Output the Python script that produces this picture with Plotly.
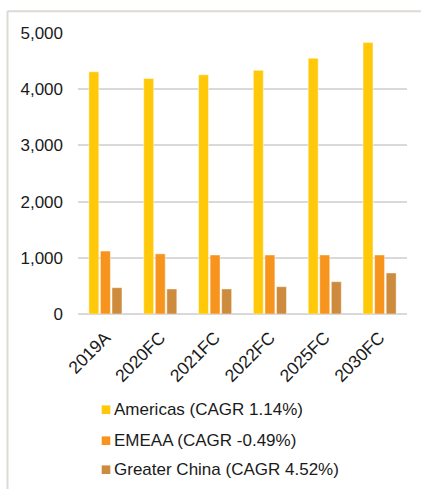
import plotly.graph_objects as go

# Revenue by region, actual and forecast years
years = ["2019A", "2020FC", "2021FC", "2022FC", "2025FC", "2030FC"]
americas = [4310, 4190, 4255, 4335, 4550, 4830]
emeaa = [1120, 1070, 1050, 1050, 1050, 1050]
greater_china = [468, 445, 445, 486, 575, 730]

series_names = [
    "Americas (CAGR 1.14%)",
    "EMEAA (CAGR -0.49%)",
    "Greater China (CAGR 4.52%)",
]
series_colors = ["#FFC90A", "#F7941D", "#CD8B3E"]
y_ticks = [0, 1000, 2000, 3000, 4000, 5000]

FONT = "Liberation Sans, Arial, sans-serif"
TEXT = "#1a1a1a"

fig = go.Figure()
for name, vals, col in zip(series_names, [americas, emeaa, greater_china], series_colors):
    fig.add_trace(go.Bar(
        x=years, y=vals, name=name, showlegend=False,
        marker=dict(color=col, line=dict(color="rgba(255,255,255,0.55)", width=0.8)),
    ))

fig.update_layout(
    width=421, height=489,
    margin=dict(l=78, r=14, t=33, b=175),
    paper_bgcolor="white", plot_bgcolor="white",
    barmode="group", bargap=0.367, bargroupgap=0.14,
    font=dict(family=FONT, size=17, color=TEXT),
    xaxis=dict(
        tickangle=-45, showgrid=False, showline=False, ticks="",
        automargin=False, ticklabelstandoff=9,
        tickfont=dict(size=17.5, family=FONT, color=TEXT),
    ),
    yaxis=dict(
        range=[0, 5000], tickvals=y_ticks, tickformat=",d",
        showgrid=True, gridcolor="#D9D9D9", gridwidth=2,
        zeroline=True, zerolinecolor="#D9D9D9", zerolinewidth=2,
        showline=False, ticks="", ticklabelstandoff=14, automargin=False,
        tickfont=dict(size=17, family=FONT, color=TEXT),
    ),
    showlegend=False,
)

# Legend: colour swatch plus label, one row per series, below the axis
px_left, px_width = 78.0, 329.0
px_bottom, px_height = 314.3, 281.0


def xp(px):
    return (px - px_left) / px_width


def yp(py):
    return (px_bottom - py) / px_height


legend_rows = [410, 441, 470]
for name, col, row in zip(series_names, series_colors, legend_rows):
    fig.add_shape(type="rect", xref="paper", yref="paper",
                  x0=xp(101.7), x1=xp(110.3), y0=yp(row + 4.3), y1=yp(row - 4.3),
                  fillcolor=col, line=dict(width=0))
    fig.add_annotation(xref="paper", yref="paper", x=xp(112), y=yp(row),
                       xanchor="left", yanchor="middle", showarrow=False,
                       text=name, font=dict(size=17, family=FONT, color=TEXT))

# Light frame around the chart area (top and left edges)
fig.add_shape(type="line", xref="paper", yref="paper",
              x0=xp(7.5), x1=xp(425), y0=yp(11.5), y1=yp(11.5),
              line=dict(color="#DED9D5", width=2))
fig.add_shape(type="line", xref="paper", yref="paper",
              x0=xp(7.5), x1=xp(7.5), y0=yp(11.5), y1=yp(495),
              line=dict(color="#DED9D5", width=2))

fig.write_html("out.html")
